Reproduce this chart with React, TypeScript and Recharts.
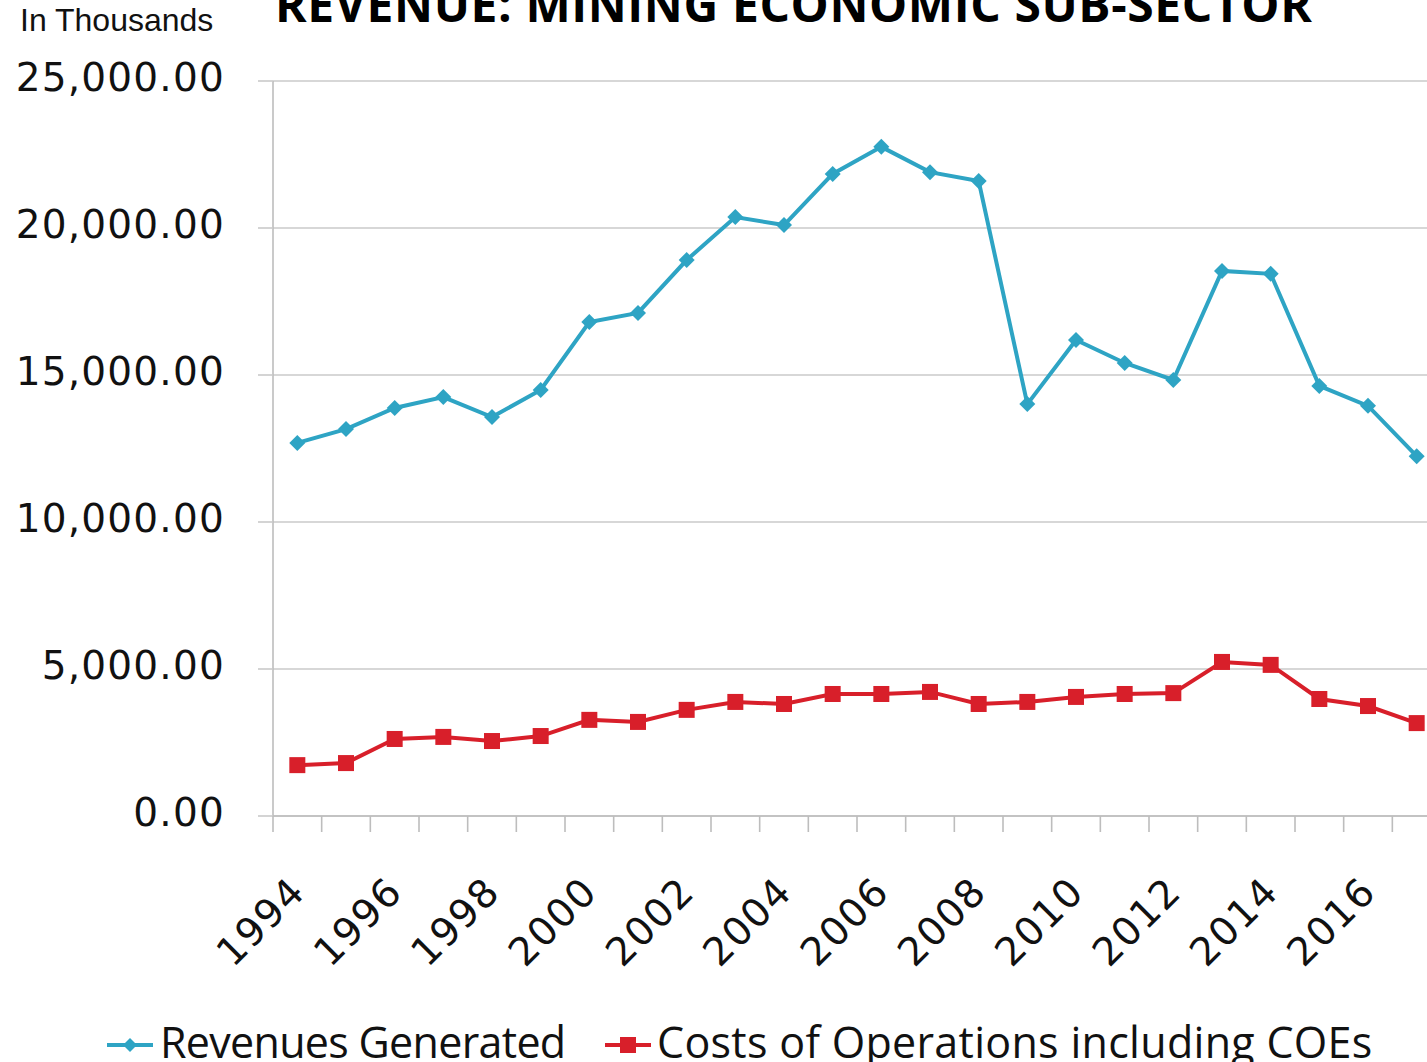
import React from 'react';
import { LineChart, Line, XAxis, YAxis, CartesianGrid, Legend } from 'recharts';

const years = [1994, 1995, 1996, 1997, 1998, 1999, 2000, 2001, 2002, 2003, 2004, 2005, 2006, 2007, 2008, 2009, 2010, 2011, 2012, 2013, 2014, 2015, 2016, 2017];
const revenues = [12690, 13160, 13880, 14250, 13570, 14490, 16800, 17110, 18910, 20370, 20100, 21840, 22760, 21900, 21600, 14010, 16190, 15410, 14830, 18540, 18440, 14630, 13950, 12240];
const costs = [1730, 1800, 2620, 2690, 2550, 2720, 3270, 3200, 3610, 3880, 3810, 4150, 4150, 4220, 3810, 3880, 4050, 4150, 4180, 5240, 5140, 3980, 3740, 3160];
const yTicks = [0, 5000, 10000, 15000, 20000, 25000];
const labelYears = [1994, 1996, 1998, 2000, 2002, 2004, 2006, 2008, 2010, 2012, 2014, 2016];
const seriesNames = ['Revenues Generated', 'Costs of Operations including COEs'];
const title = 'REVENUE: MINING ECONOMIC SUB-SECTOR';
const unitLabel = 'In Thousands';

const REV_COLOR = '#2EA4C4';
const COST_COLOR = '#D81F2A';
const GRID = '#cacaca';

const data = years.map((y, i) => ({ year: y, revenue: revenues[i], cost: costs[i] }));
const boundaries = [...years.map((y) => y - 0.5), years[years.length - 1] + 0.5];
const xTicks = [...boundaries, ...labelYears].sort((a, b) => a - b);
const xDomain = [boundaries[0], boundaries[boundaries.length - 1]];

const fmt = (v: number) => v.toLocaleString('en-US', { minimumFractionDigits: 2, maximumFractionDigits: 2 });

const XTick = (props: any) => {
  const { x, y, payload } = props;
  const v = payload.value;
  if (!Number.isInteger(v)) {
    return <line x1={x} x2={x} y1={y} y2={y + 16} stroke="#bdbdbd" strokeWidth={1.6} />;
  }
  const ax = x + 10;
  const ay = y + 78;
  return (
    <text
      x={ax}
      y={ay}
      transform={`rotate(-45 ${ax} ${ay})`}
      textAnchor="end"
      fontFamily="DejaVu Sans"
      fontSize={39}
      letterSpacing={1.5}
      fill="#111"
    >
      {v}
    </text>
  );
};

const DiamondDot = (props: any) => {
  const { cx, cy, index } = props;
  if (cx == null || cy == null) return null;
  const r = 8;
  return <path key={`d${index}`} d={`M${cx},${cy - r}L${cx + r},${cy}L${cx},${cy + r}L${cx - r},${cy}Z`} fill={REV_COLOR} />;
};

const SquareDot = (props: any) => {
  const { cx, cy, index } = props;
  if (cx == null || cy == null) return null;
  const s = 8;
  return <rect key={`s${index}`} x={cx - s} y={cy - s} width={2 * s} height={2 * s} fill={COST_COLOR} />;
};

const LegendContent = () => (
  <div style={{ position: 'relative', width: 1427, height: 62, fontFamily: 'Open Sans', fontSize: 43, lineHeight: '43px', color: '#111' }}>
    <svg style={{ position: 'absolute', left: 105, top: 34 }} width={50} height={22}>
      <line x1={2} x2={48} y1={11} y2={11} stroke={REV_COLOR} strokeWidth={4} />
      <path d="M25,4L32,11L25,18L18,11Z" fill={REV_COLOR} />
    </svg>
    <div style={{ position: 'absolute', left: 160, top: 20, whiteSpace: 'nowrap', letterSpacing: -0.7 }}>{seriesNames[0]}</div>
    <svg style={{ position: 'absolute', left: 603, top: 34 }} width={50} height={22}>
      <line x1={2} x2={48} y1={11} y2={11} stroke={COST_COLOR} strokeWidth={4} />
      <rect x={17} y={3} width={16} height={16} fill={COST_COLOR} />
    </svg>
    <div style={{ position: 'absolute', left: 657, top: 20, whiteSpace: 'nowrap', letterSpacing: 0.3 }}>{seriesNames[1]}</div>
  </div>
);

export default function App() {
  return (
    <div style={{ position: 'fixed', left: 0, top: 0, width: 1427, height: 1062, overflow: 'hidden', background: '#fff' }}>
      <LineChart width={1441} height={1062} data={data} margin={{ top: 81, right: 0, bottom: 0, left: 0 }}>
        <CartesianGrid vertical={false} stroke={GRID} strokeWidth={1.6} />
        <XAxis
          dataKey="year"
          type="number"
          domain={xDomain}
          ticks={xTicks}
          interval={0}
          height={246}
          tickSize={0}
          tickMargin={0}
          tickLine={false}
          axisLine={{ stroke: '#bdbdbd', strokeWidth: 1.6 }}
          tick={<XTick />}
        />
        <YAxis
          type="number"
          domain={[0, 25000]}
          ticks={yTicks}
          interval={0}
          width={273}
          tickSize={15}
          tickMargin={33}
          tickFormatter={fmt}
          tickLine={{ stroke: GRID, strokeWidth: 1.6 }}
          axisLine={{ stroke: '#bdbdbd', strokeWidth: 1.6 }}
          tick={{ fontFamily: 'DejaVu Sans', fontSize: 39, fill: '#111', dy: -4, letterSpacing: 1.2 }}
        />
        <Legend verticalAlign="middle" wrapperStyle={{ top: 1000, left: 0, width: 1427, height: 62 }} content={<LegendContent />} />
        <Line dataKey="revenue" name={seriesNames[0]} stroke={REV_COLOR} strokeWidth={4} dot={<DiamondDot />} activeDot={false} isAnimationActive={false} />
        <Line dataKey="cost" name={seriesNames[1]} stroke={COST_COLOR} strokeWidth={4} dot={<SquareDot />} activeDot={false} isAnimationActive={false} />
      </LineChart>
      <div style={{ position: 'absolute', left: 20, top: 4, fontFamily: 'Liberation Sans', fontSize: 32, lineHeight: '32px', color: '#111', whiteSpace: 'nowrap' }}>{unitLabel}</div>
      <div style={{ position: 'absolute', left: 275, top: -20, fontFamily: 'Open Sans', fontWeight: 700, fontSize: 48, lineHeight: '48px', letterSpacing: 0.6, color: '#000', whiteSpace: 'nowrap' }}>{title}</div>
    </div>
  );
}
